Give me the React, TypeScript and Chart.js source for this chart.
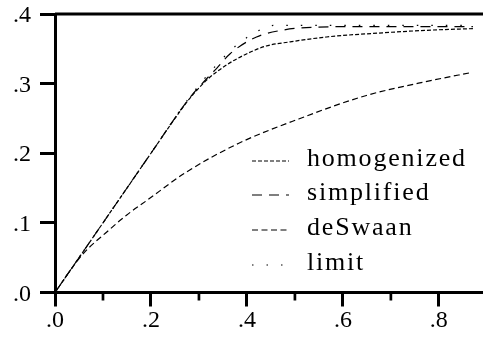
import React, { useEffect, useRef, useState } from 'react';
import { Chart, registerables } from 'chart.js';

Chart.register(...registerables);

const SERIES_NAMES = ['homogenized', 'simplified', 'deSwaan', 'limit'];

const HOMOGENIZED_X = [0, 0.05, 0.1, 0.15, 0.2, 0.25, 0.28, 0.316, 0.358, 0.4, 0.44, 0.49, 0.566, 0.683, 0.788, 0.871];
const HOMOGENIZED_Y = [0, 0.05, 0.1, 0.15, 0.2, 0.25, 0.278, 0.305, 0.327, 0.343, 0.354, 0.36, 0.367, 0.373, 0.377, 0.379];

const SIMPLIFIED_X = [0, 0.1, 0.2, 0.28, 0.316, 0.337, 0.365, 0.42, 0.476, 0.538, 0.65, 0.871];
const SIMPLIFIED_Y = [0, 0.1, 0.2, 0.279, 0.307, 0.322, 0.343, 0.367, 0.377, 0.381, 0.382, 0.382];

const DESWAAN_X = [0, 0.03, 0.059, 0.108, 0.149, 0.191, 0.274, 0.382, 0.507, 0.649, 0.788, 0.868];
const DESWAAN_Y = [0, 0.03, 0.056, 0.087, 0.111, 0.132, 0.173, 0.214, 0.249, 0.283, 0.305, 0.316];

const LIMIT_X = [0, 0.1, 0.2, 0.28, 0.333, 0.378, 0.427, 0.456, 0.6, 0.871];
const LIMIT_Y = [0, 0.1, 0.2, 0.28, 0.324, 0.355, 0.377, 0.3836, 0.3836, 0.3836];

const X_TICKS = [0, 0.1, 0.2, 0.3, 0.4, 0.5, 0.6, 0.7, 0.8];
const X_TICK_LABELS = ['.0', '', '.2', '', '.4', '', '.6', '', '.8'];
const Y_TICKS = [0, 0.1, 0.2, 0.3, 0.4];
const Y_TICK_LABELS = ['.0', '.1', '.2', '.3', '.4'];

const X_MIN = 0;
const X_MAX = 0.892;
const Y_MIN = 0;
const Y_MAX = 0.4;

const DASHES = [[4, 2], [10, 7], [6, 3.5], [1.5, 13]];

const zip = (xs: number[], ys: number[]) => xs.map((x, i) => ({ x, y: ys[i] }));

const FONT = '"Liberation Serif", "Times New Roman", serif';

// legend layout (pixels)
const LEGEND_LINE_X0 = 252;
const LEGEND_LINE_X1 = 289;
const LEGEND_TEXT_X = 307;
const LEGEND_ROW_Y = [161, 195, 230, 265];

type Lbl = { text: string; x: number; y: number; align: 'center' | 'right' | 'left'; size: number; spacing?: number };

const framePlugin = {
  id: 'frame',
  afterDraw(chart: any) {
    const { ctx, chartArea } = chart;
    const xs = chart.scales.x;
    ctx.save();
    ctx.strokeStyle = '#000';
    ctx.lineWidth = 3;
    ctx.beginPath();
    ctx.moveTo(chartArea.left, chartArea.top);
    ctx.lineTo(chart.width, chartArea.top);
    ctx.stroke();
    ctx.lineWidth = 2.7;
    xs.ticks.forEach((t: any, i: number) => {
      if (i % 2 === 1) {
        const px = xs.getPixelForValue(t.value);
        ctx.beginPath();
        ctx.moveTo(px, chartArea.bottom);
        ctx.lineTo(px, chartArea.bottom + 8);
        ctx.stroke();
      }
    });
    chart.data.datasets.forEach((ds: any, i: number) => {
      const y = LEGEND_ROW_Y[i];
      ctx.lineWidth = 1.2;
      ctx.setLineDash(ds.borderDash || []);
      ctx.beginPath();
      ctx.moveTo(LEGEND_LINE_X0, y);
      ctx.lineTo(LEGEND_LINE_X1, y);
      ctx.stroke();
    });
    ctx.restore();
  },
};

export default function App() {
  const ref = useRef<HTMLCanvasElement | null>(null);
  const [labels, setLabels] = useState<Lbl[]>([]);

  useEffect(() => {
    if (!ref.current) return;
    const seriesX = [HOMOGENIZED_X, SIMPLIFIED_X, DESWAAN_X, LIMIT_X];
    const seriesY = [HOMOGENIZED_Y, SIMPLIFIED_Y, DESWAAN_Y, LIMIT_Y];
    const chart = new Chart(ref.current, {
      type: 'line',
      data: {
        datasets: SERIES_NAMES.map((name, i) => ({
          label: name,
          data: zip(seriesX[i], seriesY[i]),
          borderColor: '#000',
          borderWidth: 1.2,
          borderDash: DASHES[i],
          pointRadius: 0,
          fill: false,
          cubicInterpolationMode: 'monotone' as const,
        })),
      },
      options: {
        responsive: false,
        animation: false,
        layout: { padding: { top: 14, left: 0, right: 0, bottom: 0 } },
        plugins: { legend: { display: false }, tooltip: { enabled: false } },
        scales: {
          x: {
            type: 'linear',
            min: X_MIN,
            max: X_MAX,
            afterBuildTicks: (s: any) => {
              s.ticks = X_TICKS.map((v) => ({ value: v }));
            },
            afterFit: (s: any) => {
              s.height = 47.5;
            },
            ticks: { display: false },
            grid: {
              drawOnChartArea: false,
              drawTicks: true,
              tickLength: 14,
              tickWidth: 3,
              tickColor: (c: any) => (c.index % 2 === 0 ? '#000' : 'rgba(0,0,0,0)'),
            },
            border: { display: true, color: '#000', width: 3 },
          },
          y: {
            type: 'linear',
            min: Y_MIN,
            max: Y_MAX,
            afterBuildTicks: (s: any) => {
              s.ticks = Y_TICKS.map((v) => ({ value: v }));
            },
            afterFit: (s: any) => {
              s.width = 55;
            },
            ticks: { display: false },
            grid: {
              drawOnChartArea: false,
              drawTicks: true,
              tickLength: 15,
              tickWidth: 3,
              tickColor: '#000',
            },
            border: { display: true, color: '#000', width: 3 },
          },
        },
      },
      plugins: [framePlugin],
    });

    const xs: any = chart.scales.x;
    const ys: any = chart.scales.y;
    const area = chart.chartArea;
    const out: Lbl[] = [];
    X_TICKS.forEach((v, i) => {
      if (X_TICK_LABELS[i]) {
        out.push({ text: X_TICK_LABELS[i], x: xs.getPixelForValue(v), y: area.bottom + 26, align: 'center', size: 24 });
      }
    });
    Y_TICKS.forEach((v, i) => {
      out.push({ text: Y_TICK_LABELS[i], x: area.left - 24, y: ys.getPixelForValue(v), align: 'right', size: 24 });
    });
    SERIES_NAMES.forEach((name, i) => {
      out.push({ text: name, x: LEGEND_TEXT_X, y: LEGEND_ROW_Y[i] - 3, align: 'left', size: 26, spacing: 1.8 });
    });
    setLabels(out);

    return () => chart.destroy();
  }, []);

  return (
    <div style={{ position: 'fixed', left: 0, top: 0, width: 483, height: 340, background: '#fff', overflow: 'hidden' }}>
      <canvas ref={ref} width={483} height={340} style={{ display: 'block' }} />
      {labels.map((l, i) => (
        <span
          key={i}
          style={{
            position: 'absolute',
            left: l.x,
            top: l.y,
            fontFamily: FONT,
            fontSize: l.size,
            lineHeight: 1,
            letterSpacing: l.spacing ? `${l.spacing}px` : undefined,
            whiteSpace: 'nowrap',
            color: '#000',
            transform:
              l.align === 'center' ? 'translate(-50%, -50%)' : l.align === 'right' ? 'translate(-100%, -50%)' : 'translate(0, -50%)',
          }}
        >
          {l.text}
        </span>
      ))}
    </div>
  );
}
